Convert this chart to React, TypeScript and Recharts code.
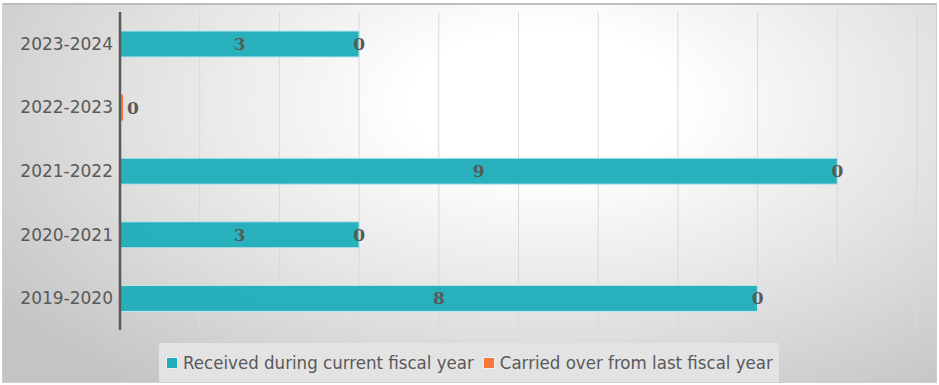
import React from 'react';
import { BarChart, Bar, XAxis, YAxis, CartesianGrid, Legend, LabelList } from 'recharts';

const years = ['2023-2024', '2022-2023', '2021-2022', '2020-2021', '2019-2020'];
const received = [3, 0, 9, 3, 8];
const carriedOver = [0, 0, 0, 0, 0];
const xTicks = [0, 1, 2, 3, 4, 5, 6, 7, 8, 9, 10];

const TEAL = '#1fadbb';
const ORANGE = '#f4793b';
const TEXT = '#595959';

const data = years.map((year, i) => ({
  year,
  received: received[i],
  carried: carriedOver[i],
}));

const labelFont = "'DejaVu Serif', serif";

function rowOf(year: string) {
  return data.find((d) => d.year === year);
}

function Num({ x, y, anchor, children }: any) {
  return (
    <text
      x={x}
      y={y}
      dy={6}
      textAnchor={anchor}
      fill={TEXT}
      fontFamily={labelFont}
      fontWeight="bold"
      fontSize={17}
    >
      {children}
    </text>
  );
}

// labels on the teal bar: its value in the middle, the carried-over value at its end
function ReceivedLabel(props: any) {
  const { x, y, width, height, value } = props;
  const row = rowOf(value);
  if (!row || row.received === 0) return null;
  const cy = y + height / 2;
  return (
    <g>
      <Num x={x + width / 2} y={cy} anchor="middle">{row.received}</Num>
      <Num x={x + width} y={cy} anchor="middle">{row.carried}</Num>
    </g>
  );
}

// a row with nothing received: one label just right of the axis
function CarriedLabel(props: any) {
  const { x, y, height, value } = props;
  const row = rowOf(value);
  if (!row || row.received !== 0) return null;
  return <Num x={x + 7} y={y + height / 2} anchor="start">{row.carried}</Num>;
}

function LegendBox() {
  const items = [
    { name: 'Received during current fiscal year', color: TEAL },
    { name: 'Carried over from last fiscal year', color: ORANGE },
  ];
  return (
    <div style={{ display: 'flex', justifyContent: 'center', paddingTop: 13, paddingLeft: 21 }}>
      <div
        style={{
          display: 'flex',
          alignItems: 'center',
          background: '#e3e3e3',
          height: 39,
          padding: '0 6px 0 7px',
          fontFamily: "'Liberation Sans Narrow', 'DejaVu Sans Condensed', sans-serif",
          fontSize: 18.5,
          color: TEXT,
        }}
      >
        {items.map((it, i) => (
          <div key={it.name} style={{ display: 'flex', alignItems: 'center', marginLeft: i ? 9 : 0 }}>
            <span
              style={{
                display: 'inline-block',
                width: 10,
                height: 10,
                background: it.color,
                border: '1px solid #f0f0f0',
                marginRight: 5,
              }}
            />
            <span>{it.name}</span>
          </div>
        ))}
      </div>
    </div>
  );
}

export default function App() {
  return (
    <div
      style={{
        position: 'absolute',
        left: 0,
        top: 0,
        width: 939,
        height: 385,
        background: '#fff',
      }}
    >
      <div
        style={{
          position: 'absolute',
          left: 2,
          top: 3,
          width: 935,
          height: 380,
          boxSizing: 'border-box',
          borderTop: '2px solid #bdbdbd',
          borderLeft: '1px solid #cfcfcf',
          borderRight: '1px solid #cfcfcf',
          borderBottom: '1px solid #cfcfcf',
          background:
            'radial-gradient(ellipse 72% 95% at 58% 26%, #ffffff 0%, #ffffff 20%, #e4e4e4 58%, #c4c4c4 100%)',
        }}
      />
      <div style={{ position: 'absolute', left: 0, top: 0 }}>
        <BarChart
          width={939}
          height={385}
          data={data}
          layout="vertical"
          margin={{ top: 12, right: 22, left: 0, bottom: 4 }}
          barCategoryGap={19}
        >
          <CartesianGrid horizontal={false} stroke="#d9d9d9" strokeWidth={1} />
          <XAxis type="number" domain={[0, 10]} ticks={xTicks} hide />
          <YAxis
            type="category"
            dataKey="year"
            width={120}
            tickLine={false}
            tickSize={0}
            tickMargin={7}
            axisLine={{ stroke: TEXT, strokeWidth: 2.5 }}
            tick={{ fill: TEXT, fontSize: 17, fontFamily: "'DejaVu Sans', sans-serif" }}
          />
          <Legend verticalAlign="bottom" height={51} content={<LegendBox />} />
          <Bar
            dataKey="received"
            stackId="a"
            fill={TEAL}
            fillOpacity={0.95}
            stroke="#bfe9ee"
            strokeWidth={1}
            isAnimationActive={false}
          >
            <LabelList dataKey="year" content={<ReceivedLabel />} />
          </Bar>
          <Bar
            dataKey="carried"
            stackId="a"
            fill={ORANGE}
            minPointSize={(v: number, i: number) => (data[i] && data[i].received === 0 ? 3 : 0)}
            isAnimationActive={false}
          >
            <LabelList dataKey="year" content={<CarriedLabel />} />
          </Bar>
        </BarChart>
      </div>
    </div>
  );
}
